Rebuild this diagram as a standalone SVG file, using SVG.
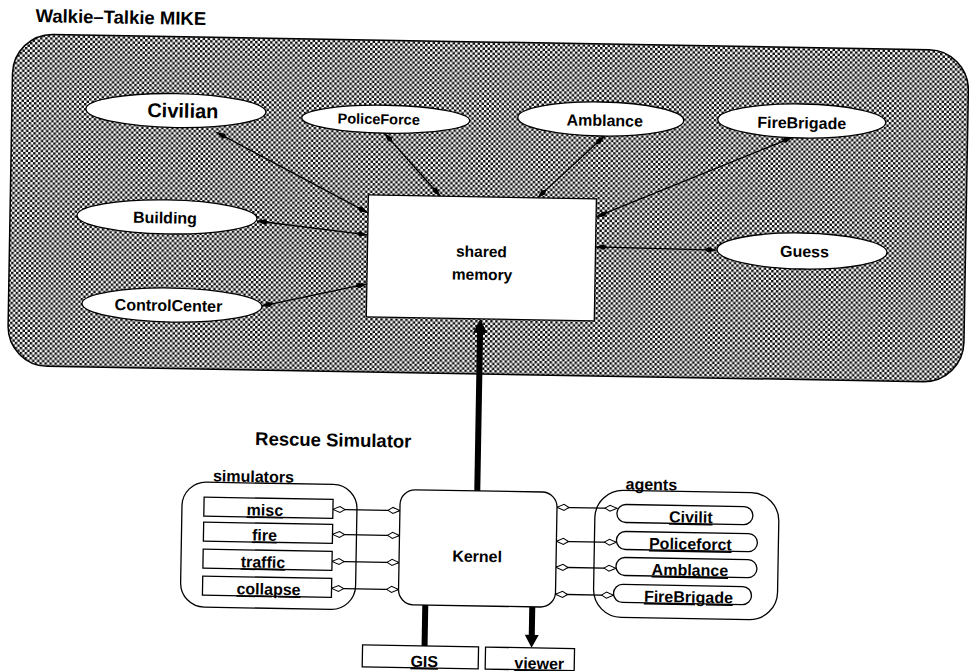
<svg xmlns="http://www.w3.org/2000/svg" width="969" height="671" viewBox="0 0 969 671">
<style>
text{font-family:"Liberation Sans",Arial,sans-serif;font-weight:bold;fill:#000;text-anchor:middle}
.t{font-size:16px}
.u{font-size:16px;text-decoration:underline}
.node{fill:#fff;stroke:#000;stroke-width:1.3}
.box{fill:none;stroke:#000;stroke-width:1.3}
.thin{stroke:#000;stroke-width:1.3;fill:none}
.fc{marker-start:url(#fa);marker-end:url(#fa)}
.hc{marker-start:url(#ha);marker-end:url(#ha)}
.thick{stroke:#000;stroke-width:6;fill:none}
</style>
<defs>
<pattern id="hatch" width="5" height="5" patternUnits="userSpaceOnUse">
<rect width="5" height="5" fill="#fff"/>
<rect width="2.5" height="2.5" fill="#111"/>
<rect x="2.5" y="2.5" width="2.5" height="2.5" fill="#111"/>
</pattern>
<marker id="fa" viewBox="0 0 12 6" refX="12" refY="3" markerWidth="12" markerHeight="6" markerUnits="userSpaceOnUse" orient="auto-start-reverse"><path d="M0,3 L4,0.3 L12,3 L4,5.7 z" fill="#000"/></marker>
<marker id="ha" viewBox="-1 -1 14 8" refX="12" refY="3" markerWidth="14" markerHeight="8" markerUnits="userSpaceOnUse" orient="auto-start-reverse"><path d="M0,3 L5,0 L12,3 L5,6 z" fill="#fff" stroke="#000" stroke-width="1"/></marker>
</defs>
<rect width="969" height="671" fill="#fff"/>
<g transform="rotate(1 485 335)">
<text x="30" y="30" style="font-size:18.5px;text-anchor:start">Walkie–Talkie MIKE</text>
<g id="mike">
<rect x="8" y="42" width="956" height="332" rx="40" fill="url(#hatch)" stroke="#000" stroke-width="1.5"/>
</g>

<text x="257" y="449" style="font-size:18.5px;text-anchor:start">Rescue Simulator</text>

<g id="simulators">
<rect class="box" x="185" y="487" width="175" height="125" rx="24"/>
<text class="t" x="256" y="486">simulators</text>
</g>
<g id="agents">
<rect class="box" x="598" y="488" width="184" height="127" rx="28"/>
<text class="t" x="654" y="487">agents</text>
</g>

<g id="connectors">
<line class="thin fc" x1="213" y1="137" x2="366" y2="215"/>
<line class="thin fc" x1="381" y1="135" x2="438" y2="197"/>
<line class="thin fc" x1="601" y1="134" x2="535" y2="197"/>
<line class="thin fc" x1="789" y1="132" x2="594" y2="215"/>
<line class="thin fc" x1="255" y1="225" x2="366" y2="237"/>
<line class="thin fc" x1="261" y1="310" x2="366" y2="286"/>
<line class="thin fc" x1="594" y1="245" x2="715" y2="246"/>

<line class="thick" x1="480" y1="491" x2="480" y2="332"/>
<polygon points="473,333 480,319 487,333" fill="#000"/>
<line class="thick" x1="430" y1="606" x2="430" y2="647"/>
<line class="thick" x1="537" y1="606" x2="537" y2="635"/>
<polygon points="530,634 544,634 537,647" fill="#000"/>

<line class="thin hc" x1="336" y1="512" x2="403" y2="512"/>
<line class="thin hc" x1="336" y1="537" x2="403" y2="537"/>
<line class="thin hc" x1="336" y1="564" x2="403" y2="564"/>
<line class="thin hc" x1="336" y1="591" x2="403" y2="591"/>

<line class="thin hc" x1="560" y1="506" x2="620" y2="506"/>
<line class="thin hc" x1="560" y1="540" x2="620" y2="540"/>
<line class="thin hc" x1="560" y1="566" x2="620" y2="566"/>
<line class="thin hc" x1="560" y1="593" x2="618" y2="593"/>
</g>

<g id="civilian"><ellipse class="node" cx="172" cy="116" rx="90" ry="17"/><text x="179" y="123" style="font-size:20px">Civilian</text></g>
<g id="policeforce"><ellipse class="node" cx="382" cy="121" rx="84" ry="14"/><text x="375" y="126" style="font-size:14.5px">PoliceForce</text></g>
<g id="amblance"><ellipse class="node" cx="597" cy="117" rx="83" ry="17"/><text class="t" x="601" y="124">Amblance</text></g>
<g id="firebrigade"><ellipse class="node" cx="798" cy="115.5" rx="84" ry="17"/><text class="t" x="798" y="123">FireBrigade</text></g>
<g id="building"><ellipse class="node" cx="165" cy="222.5" rx="90" ry="17"/><text class="t" x="163" y="229">Building</text></g>
<g id="controlcenter"><ellipse class="node" cx="171.5" cy="310.5" rx="90" ry="17"/><text class="t" x="168" y="316.5">ControlCenter</text></g>
<g id="guess"><ellipse class="node" cx="800.5" cy="245.5" rx="85" ry="18"/><text class="t" x="803" y="251.5">Guess</text></g>
<g id="shared-memory"><rect class="node" x="366" y="197" width="228" height="122"/><text x="480" y="257" style="font-size:15.5px">shared</text><text x="481" y="280" style="font-size:15.5px">memory</text></g>

<g id="misc"><rect class="node" x="207" y="502" width="129" height="19"/><text class="u" x="268" y="519.5">misc</text></g>
<g id="fire"><rect class="node" x="207" y="527" width="129" height="19"/><text class="u" x="268" y="544.5">fire</text></g>
<g id="traffic"><rect class="node" x="207" y="554" width="129" height="19"/><text class="u" x="267" y="571.5">traffic</text></g>
<g id="collapse"><rect class="node" x="207" y="581" width="129" height="19"/><text class="u" x="273" y="598.5">collapse</text></g>

<g id="kernel"><rect class="node" x="403" y="491" width="157" height="115" rx="15"/><text class="t" x="481" y="562">Kernel</text></g>

<g id="civilit"><rect class="node" x="620" y="502" width="136" height="18" rx="9"/><text class="u" x="694" y="519">Civilit</text></g>
<g id="policeforct"><rect class="node" x="620" y="529" width="141" height="18" rx="9"/><text class="u" x="694" y="546">Policeforct</text></g>
<g id="amblance2"><rect class="node" x="620" y="555" width="141" height="18" rx="9"/><text class="u" x="694" y="572">Amblance</text></g>
<g id="firebrigade2"><rect class="node" x="618" y="582" width="138" height="18" rx="9"/><text class="u" x="693" y="599">FireBrigade</text></g>

<g id="gis"><rect class="node" x="368" y="647" width="116" height="22"/><text class="u" x="430" y="668">GIS</text></g>
<g id="viewer"><rect class="node" x="491" y="647" width="89" height="22"/><text class="u" x="545" y="668">viewer</text></g>
</g>
</svg>
